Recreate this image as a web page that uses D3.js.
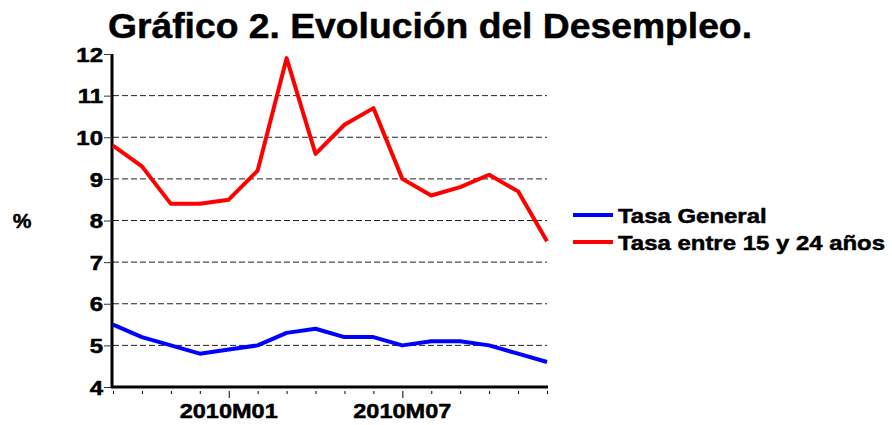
<!DOCTYPE html>
<html>
<head>
<meta charset="utf-8">
<script src="https://cdn.jsdelivr.net/npm/d3@7"></script>
<style>
  body { margin: 0; background: #fff; }
  svg text { font-family: "Liberation Sans", Arial, sans-serif; font-weight: bold; fill: #000; stroke: #000; stroke-width: 0.5px; }
</style>
</head>
<body>
<div id="chart"></div>
<script>
const width = 892;
const height = 425;
const margin = { top: 54, right: 345, bottom: 38, left: 113 };

const months = ["2009M09", "2009M10", "2009M11", "2009M12", "2010M01", "2010M02", "2010M03", "2010M04",
  "2010M05", "2010M06", "2010M07", "2010M08", "2010M09", "2010M10", "2010M11", "2010M12"];
const tasaGeneral = [5.5, 5.2, 5.0, 4.8, 4.9, 5.0, 5.3, 5.4, 5.2, 5.2, 5.0, 5.1, 5.1, 5.0, 4.8, 4.6];
const tasaJoven = [9.8, 9.3, 8.4, 8.4, 8.5, 9.2, 11.9, 9.6, 10.3, 10.7, 9.0, 8.6, 8.8, 9.1, 8.7, 7.5];
const yTicks = [4, 5, 6, 7, 8, 9, 10, 11, 12];
const xLabels = ["2010M01", "2010M07"];

const series = [
  { name: "Tasa General", values: tasaGeneral, color: "#0000ff" },
  { name: "Tasa entre 15 y 24 años", values: tasaJoven, color: "#ff0000" }
];

// the original font is a bit wider than Arial, so stretch text horizontally
function stretch(sel, k) {
  sel.each(function () {
    const len = this.getComputedTextLength();
    d3.select(this).attr("textLength", len * k).attr("lengthAdjust", "spacingAndGlyphs");
  });
}

const svg = d3.select("#chart")
  .append("svg")
  .attr("width", width)
  .attr("height", height);

const xScale = d3.scalePoint()
  .domain(months)
  .range([margin.left, width - margin.right]);

const yScale = d3.scaleLinear()
  .domain([4, 12])
  .range([height - margin.bottom, margin.top]);

// grid
svg.append("g")
  .selectAll("line")
  .data(yTicks.filter(d => d > 4 && d < 12))
  .enter()
  .append("line")
  .attr("x1", margin.left)
  .attr("x2", width - margin.right)
  .attr("y1", d => yScale(d))
  .attr("y2", d => yScale(d))
  .attr("stroke", "#222")
  .attr("stroke-width", 1)
  .attr("stroke-dasharray", "6,3");

// y axis
const yAxis = svg.append("g")
  .attr("transform", `translate(${margin.left - 1},0)`)
  .call(d3.axisLeft(yScale).tickValues(yTicks).tickSize(8).tickPadding(1).tickFormat(d3.format("d")));
yAxis.attr("font-family", null);
yAxis.select(".domain").attr("stroke", "#000").attr("stroke-width", 3).attr("d", `M0,${yScale(4) + 1}V${yScale(12)}`);
yAxis.selectAll(".tick line").attr("stroke", "#333").attr("stroke-width", 1);
yAxis.selectAll(".tick text").attr("font-size", 20).attr("dy", "0.36em").call(stretch, 1.2);

// x axis
const xAxis = svg.append("g")
  .attr("transform", `translate(0,${yScale(4)})`)
  .call(d3.axisBottom(xScale).tickSize(0).tickFormat(""));
xAxis.select(".domain").attr("stroke", "#000").attr("stroke-width", 3).attr("d", `M${margin.left - 2},0H${width - margin.right + 1}`);
xAxis.selectAll(".tick line")
  .attr("stroke", "#000")
  .attr("stroke-width", 1)
  .attr("y1", 4)
  .attr("y2", d => xLabels.includes(d) ? 11 : 7);

svg.append("g")
  .selectAll("text")
  .data(xLabels)
  .enter()
  .append("text")
  .attr("x", d => xScale(d))
  .attr("y", 418)
  .attr("text-anchor", "middle")
  .attr("font-size", 21)
  .text(d => d)
  .call(stretch, 1.12);

// lines
const line = d3.line()
  .x((d, i) => xScale(months[i]))
  .y(d => yScale(d));

svg.append("g")
  .selectAll("path")
  .data(series)
  .enter()
  .append("path")
  .attr("d", d => line(d.values))
  .attr("fill", "none")
  .attr("stroke", d => d.color)
  .attr("stroke-width", 4)
  .attr("stroke-linejoin", "round");

// legend
const legend = svg.append("g")
  .selectAll("g")
  .data(series)
  .enter()
  .append("g")
  .attr("transform", (d, i) => `translate(573,${215 + i * 27})`);

legend.append("line")
  .attr("x1", 0)
  .attr("x2", 40)
  .attr("stroke", d => d.color)
  .attr("stroke-width", 4);

legend.append("text")
  .attr("x", 45)
  .attr("y", 8)
  .attr("font-size", 21)
  .text(d => d.name)
  .call(stretch, 1.14);

svg.append("text")
  .attr("x", 22)
  .attr("y", 228)
  .attr("text-anchor", "middle")
  .attr("font-size", 21)
  .text("%");

svg.append("text")
  .attr("x", 108)
  .attr("y", 38)
  .attr("font-size", 35)
  .attr("textLength", 644)
  .attr("lengthAdjust", "spacingAndGlyphs")
  .text("Gráfico 2. Evolución del Desempleo.");
</script>
</body>
</html>
